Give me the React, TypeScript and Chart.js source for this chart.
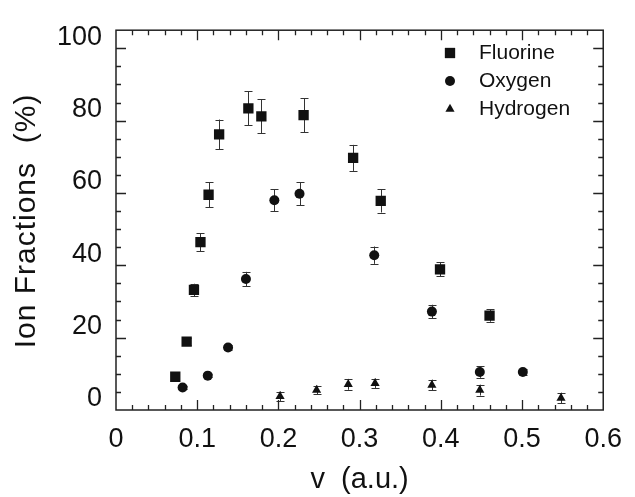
import React, { useEffect, useRef } from 'react';
import { Chart, registerables } from 'chart.js';

Chart.register(...registerables);

// ---- data ----
const fluorineV = [0.073, 0.087, 0.096, 0.104, 0.114, 0.127, 0.163, 0.179, 0.231, 0.292, 0.326, 0.399, 0.46];
const fluorineFrac = [9.2, 18.9, 33.2, 46.4, 59.5, 76.2, 83.4, 81.2, 81.5, 69.7, 57.8, 38.9, 26.1];
const fluorineErr = [0.8, 1.0, 1.7, 2.5, 3.5, 4.1, 4.7, 4.7, 4.7, 3.6, 3.2, 1.9, 1.7];

const oxygenV = [0.082, 0.113, 0.138, 0.16, 0.195, 0.226, 0.318, 0.389, 0.448, 0.501];
const oxygenFrac = [6.2, 9.5, 17.3, 36.2, 58.0, 59.8, 42.8, 27.2, 10.5, 10.5];
const oxygenErr = [0.5, 0.5, 0.8, 2.0, 3.0, 3.2, 2.4, 1.9, 1.6, 0.8];

const hydrogenV = [0.202, 0.247, 0.286, 0.319, 0.389, 0.448, 0.548];
const hydrogenFrac = [3.8, 5.5, 7.1, 7.4, 6.9, 5.5, 3.3];
const hydrogenErr = [1.3, 1.2, 1.5, 1.3, 1.5, 1.5, 1.5];

const seriesLabels = ['Fluorine', 'Oxygen', 'Hydrogen'];
const xTickValues = [0, 0.1, 0.2, 0.3, 0.4, 0.5, 0.6];
const yTickValues = [0, 20, 40, 60, 80, 100];
const xAxisTitle = 'v  (a.u.)';
const yAxisTitle = 'Ion Fractions  (%)';

const X_MIN = 0;
const X_MAX = 0.6;
const Y_MIN = 0;
const Y_MAX = 105;
const X_MINOR = 0.02;
const Y_MINOR = 5;

const FONT = "'Liberation Sans', Arial, Helvetica, sans-serif";
const INK = '#111';

const errorsByDataset = [fluorineErr, oxygenErr, hydrogenErr];

function drawMarker(ctx: CanvasRenderingContext2D, style: string, x: number, y: number, r: number) {
  ctx.beginPath();
  if (style === 'rect') {
    const s = r * Math.SQRT1_2;
    ctx.rect(x - s, y - s, 2 * s, 2 * s);
  } else if (style === 'circle') {
    ctx.arc(x, y, r, 0, Math.PI * 2);
  } else {
    const a = (2 * Math.PI) / 3;
    ctx.moveTo(x, y - r);
    ctx.lineTo(x + Math.sin(a) * r, y - Math.cos(a) * r);
    ctx.lineTo(x + Math.sin(2 * a) * r, y - Math.cos(2 * a) * r);
    ctx.closePath();
  }
  ctx.fill();
}

export default function App() {
  const ref = useRef<HTMLCanvasElement>(null);

  useEffect(() => {
    const canvas = ref.current;
    if (!canvas) return;

    const errorBars = {
      id: 'errorBars',
      beforeDatasetsDraw(chart: any) {
        const { ctx, scales } = chart;
        const xs = scales.x;
        const ys = scales.y;
        ctx.save();
        ctx.strokeStyle = '#333';
        ctx.lineWidth = 1;
        chart.data.datasets.forEach((ds: any, di: number) => {
          const errs = errorsByDataset[di];
          ds.data.forEach((p: any, i: number) => {
            const e = errs[i];
            const px = Math.round(xs.getPixelForValue(p.x)) + 0.5;
            const y1 = ys.getPixelForValue(p.y + e);
            const y2 = ys.getPixelForValue(p.y - e);
            ctx.beginPath();
            ctx.moveTo(px, y1);
            ctx.lineTo(px, y2);
            ctx.moveTo(px - 4, Math.round(y1) + 0.5);
            ctx.lineTo(px + 4, Math.round(y1) + 0.5);
            ctx.moveTo(px - 4, Math.round(y2) + 0.5);
            ctx.lineTo(px + 4, Math.round(y2) + 0.5);
            ctx.stroke();
          });
        });
        ctx.restore();
      },
    };

    const frame = {
      id: 'frame',
      afterDraw(chart: any) {
        const { ctx, chartArea, scales } = chart;
        const { left, right, top, bottom } = chartArea;
        const xs = scales.x;
        const ys = scales.y;
        ctx.save();
        ctx.strokeStyle = '#222';
        ctx.lineWidth = 1.5;
        ctx.strokeRect(left, top, right - left, bottom - top);
        ctx.lineWidth = 1.3;
        ctx.beginPath();
        const nx = Math.round((X_MAX - X_MIN) / X_MINOR);
        for (let i = 1; i < nx; i++) {
          const v = X_MIN + i * X_MINOR;
          const len = i % 5 === 0 ? 10 : 5;
          const px = Math.round(xs.getPixelForValue(v)) + 0.5;
          ctx.moveTo(px, bottom);
          ctx.lineTo(px, bottom - len);
          ctx.moveTo(px, top);
          ctx.lineTo(px, top + len);
        }
        const ny = Math.round((Y_MAX - Y_MIN) / Y_MINOR);
        for (let i = 1; i < ny; i++) {
          const v = Y_MIN + i * Y_MINOR;
          const len = i % 4 === 0 ? 10 : 5;
          const py = Math.round(ys.getPixelForValue(v)) + 0.5;
          ctx.moveTo(left, py);
          ctx.lineTo(left + len, py);
          ctx.moveTo(right, py);
          ctx.lineTo(right - len, py);
        }
        ctx.stroke();
        ctx.restore();
      },
    };

    const yTitle = {
      id: 'yTitle',
      afterDraw(chart: any) {
        const { ctx } = chart;
        ctx.save();
        ctx.fillStyle = INK;
        ctx.font = `30px ${FONT}`;
        (ctx as any).letterSpacing = '1px';
        ctx.textAlign = 'center';
        ctx.textBaseline = 'middle';
        ctx.translate(27, 221);
        ctx.rotate(-Math.PI / 2);
        ctx.fillText(yAxisTitle, 0, 0);
        (ctx as any).letterSpacing = '0px';
        ctx.restore();
      },
    };

    const legendBox = {
      id: 'legendBox',
      afterDraw(chart: any) {
        const { ctx } = chart;
        ctx.save();
        ctx.fillStyle = INK;
        ctx.font = `21px ${FONT}`;
        ctx.textBaseline = 'middle';
        ctx.textAlign = 'left';
        chart.data.datasets.forEach((ds: any, i: number) => {
          const yy = 53 + i * 28;
          const r = ds.pointStyle === 'rect' ? 7.3 : ds.pointStyle === 'circle' ? 5 : 5.3;
          drawMarker(ctx, ds.pointStyle, 450, yy, r);
          ctx.fillText(ds.label, 479, yy);
        });
        ctx.restore();
      },
    };

    const toPts = (xs: number[], ys: number[]) => xs.map((v, i) => ({ x: v, y: ys[i] }));

    const chart = new Chart(canvas, {
      type: 'scatter',
      data: {
        datasets: [
          {
            label: seriesLabels[0],
            data: toPts(fluorineV, fluorineFrac),
            pointStyle: 'rect',
            pointRadius: 7.3,
            backgroundColor: INK,
            borderColor: INK,
            borderWidth: 0,
          },
          {
            label: seriesLabels[1],
            data: toPts(oxygenV, oxygenFrac),
            pointStyle: 'circle',
            pointRadius: 5,
            backgroundColor: INK,
            borderColor: INK,
            borderWidth: 0,
          },
          {
            label: seriesLabels[2],
            data: toPts(hydrogenV, hydrogenFrac),
            pointStyle: 'triangle',
            pointRadius: 5.3,
            backgroundColor: INK,
            borderColor: INK,
            borderWidth: 0,
          },
        ],
      },
      options: {
        responsive: false,
        animation: false,
        layout: { padding: { top: 16, right: 23, left: 0, bottom: 0 } },
        plugins: { legend: { display: false }, tooltip: { enabled: false } },
        scales: {
          x: {
            type: 'linear',
            min: X_MIN,
            max: X_MAX,
            afterBuildTicks: (s: any) => {
              s.ticks = xTickValues.map((v) => ({ value: v }));
            },
            afterFit: (s: any) => {
              s.height = 87;
            },
            grid: { display: false, drawTicks: false },
            border: { display: false },
            ticks: {
              padding: 13,
              color: INK,
              maxRotation: 0,
              autoSkip: false,
              font: { family: FONT, size: 27 },
              callback: (v: any) => String(v),
            },
            title: {
              display: true,
              text: xAxisTitle,
              color: INK,
              font: { family: FONT, size: 29 },
              padding: { top: 0, bottom: 0 },
            },
          },
          y: {
            type: 'linear',
            min: Y_MIN,
            max: Y_MAX,
            afterBuildTicks: (s: any) => {
              s.ticks = yTickValues.map((v) => ({ value: v }));
            },
            afterFit: (s: any) => {
              s.width = 116;
            },
            grid: { display: false, drawTicks: false },
            border: { display: false },
            ticks: {
              padding: 14,
              labelOffset: -11,
              color: INK,
              autoSkip: false,
              font: { family: FONT, size: 27 },
              callback: (v: any) => String(v),
            },
            title: { display: false },
          },
        },
      },
      plugins: [errorBars, frame, yTitle, legendBox],
    });

    return () => chart.destroy();
  }, []);

  return (
    <div style={{ position: 'fixed', left: 0, top: 0, width: 635, height: 497, background: '#fff' }}>
      <canvas ref={ref} width={635} height={497} style={{ display: 'block', width: 635, height: 497 }} />
    </div>
  );
}
